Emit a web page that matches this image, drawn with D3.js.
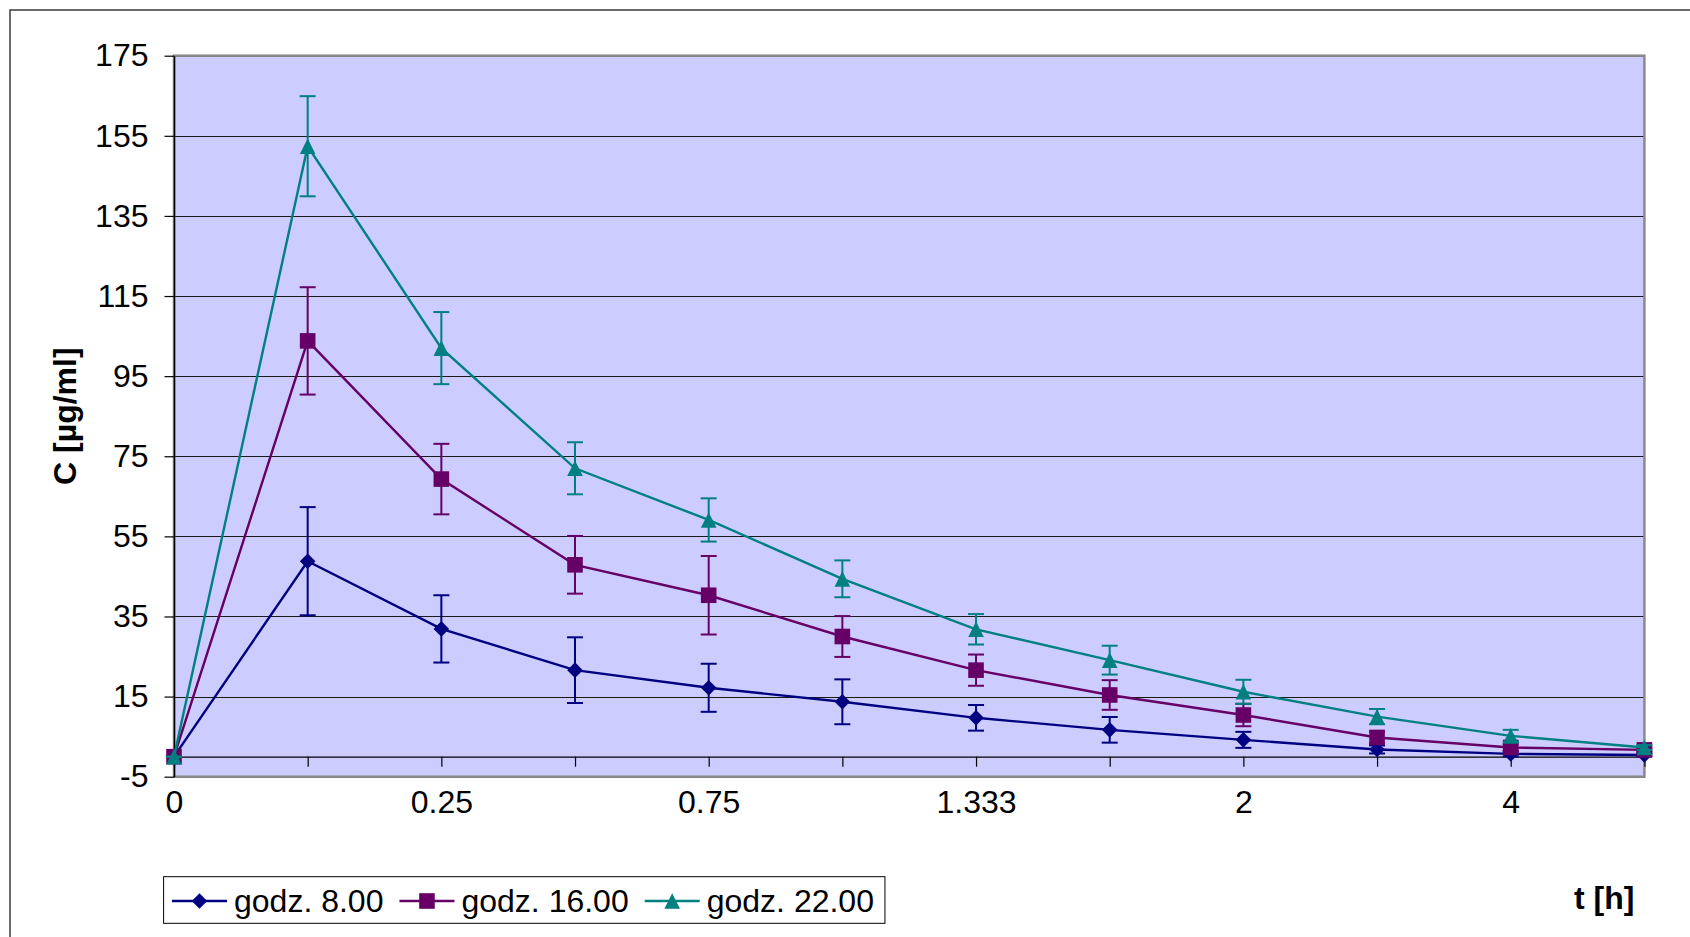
<!DOCTYPE html>
<html>
<head>
<meta charset="utf-8">
<script src="https://cdn.jsdelivr.net/npm/d3@7"></script>
<style>
  body { margin: 0; background: #fff; }
  svg { display: block; font-family: Arial, "Liberation Sans", sans-serif; }
</style>
</head>
<body>
<svg id="chart" width="1690" height="937"></svg>
<script>
// Sampling times (only every other category carries a label)
const timeLabels = ["0", "", "0.25", "", "0.75", "", "1.333", "", "2", "", "4", ""];
const yTicks = [-5, 15, 35, 55, 75, 95, 115, 135, 155, 175];
const seriesNames = ["godz. 8.00", "godz. 16.00", "godz. 22.00"];

// Mean concentration and standard deviation for each dosing hour
const meanAt8  = [0, 48.8, 31.9, 21.6, 17.2, 13.7, 9.7, 6.7, 4.2, 1.8, 0.7, 0.4];
const sdAt8    = [0, 13.5, 8.4, 8.2, 6.0, 5.6, 3.2, 3.2, 2.0, 1.0, 0.6, 0.3];
const meanAt16 = [0, 103.8, 69.3, 47.9, 40.3, 30.0, 21.6, 15.4, 10.4, 4.8, 2.3, 1.7];
const sdAt16   = [0, 13.4, 8.8, 7.2, 9.8, 5.1, 3.9, 3.7, 2.8, 1.5, 0.8, 0.5];
const meanAt22 = [0, 152.4, 102.0, 72.0, 59.1, 44.4, 31.8, 24.1, 16.2, 10.0, 5.2, 2.3];
const sdAt22   = [0, 12.5, 9.0, 6.5, 5.4, 4.6, 3.8, 3.6, 3.0, 1.9, 1.5, 0.6];

const colors = ["#000080", "#660066", "#008080"];
const shapes = ["diamond", "square", "triangle"];

const series = [
  { name: seriesNames[0], mean: meanAt8,  sd: sdAt8,  color: colors[0], shape: shapes[0] },
  { name: seriesNames[1], mean: meanAt16, sd: sdAt16, color: colors[1], shape: shapes[1] },
  { name: seriesNames[2], mean: meanAt22, sd: sdAt22, color: colors[2], shape: shapes[2] }
];

const svg = d3.select("#chart");
const FONT = 32;
const FAMILY = "Arial, 'Liberation Sans', sans-serif";

const plot = { left: 174, top: 55.7, right: 1644.4, bottom: 776.7 };

const x = d3.scalePoint()
  .domain(d3.range(timeLabels.length))
  .range([plot.left, plot.right]);

const y = d3.scaleLinear()
  .domain([yTicks[0], yTicks[yTicks.length - 1]])
  .range([plot.bottom, plot.top]);

// Outer chart frame
svg.append("rect")
  .attr("x", 10).attr("y", 10)
  .attr("width", 1720).attr("height", 1000)
  .attr("fill", "#fff")
  .attr("stroke", "#3a3a3a").attr("stroke-width", 1.5);

// Plot background
svg.append("rect")
  .attr("x", plot.left).attr("y", plot.top)
  .attr("width", plot.right - plot.left).attr("height", plot.bottom - plot.top)
  .attr("fill", "#CCCCFF");

// Horizontal gridlines
svg.append("g")
  .selectAll("line")
  .data(yTicks)
  .join("line")
  .attr("x1", plot.left).attr("x2", plot.right)
  .attr("y1", d => Math.round(y(d)) + 0.5).attr("y2", d => Math.round(y(d)) + 0.5)
  .attr("stroke", "#1a1a1a").attr("stroke-width", 1);

// Plot area border
svg.append("rect")
  .attr("x", plot.left).attr("y", plot.top)
  .attr("width", plot.right - plot.left).attr("height", plot.bottom - plot.top)
  .attr("fill", "none")
  .attr("stroke", "#8a8a8a").attr("stroke-width", 2.5);

// Y axis
const yAxis = svg.append("g")
  .attr("transform", `translate(${plot.left},0)`)
  .call(d3.axisLeft(y).tickValues(yTicks).tickFormat(d => String(d))
    .tickSize(9.5).tickPadding(16).tickSizeOuter(0));
yAxis.select(".domain").attr("stroke", "#000").attr("stroke-width", 1.5);
yAxis.selectAll(".tick line").attr("stroke", "#000").attr("stroke-width", 1.2);
yAxis.selectAll(".tick text")
  .attr("font-size", FONT).attr("font-family", FAMILY)
  .attr("fill", "#000");

// X axis (crosses at zero)
const xAxis = svg.append("g")
  .attr("transform", `translate(0,${y(0)})`)
  .call(d3.axisBottom(x).tickFormat(i => timeLabels[i]).tickSize(10).tickPadding(24).tickSizeOuter(0));
xAxis.select(".domain").attr("stroke", "#000").attr("stroke-width", 1.2);
xAxis.selectAll(".tick line").attr("stroke", "#000").attr("stroke-width", 1.2);
xAxis.selectAll(".tick text")
  .attr("font-size", FONT).attr("font-family", FAMILY)
  .attr("fill", "#000");

// Marker shapes
function markerPath(shape, r) {
  if (shape === "diamond") return `M0,${-r}L${r},0L0,${r}L${-r},0Z`;
  if (shape === "square") return `M${-r},${-r}H${r}V${r}H${-r}Z`;
  return `M0,${-r}L${r},${r}L${-r},${r}Z`;
}

const line = d3.line().x((d, i) => x(i)).y(d => y(d));

series.forEach(s => {
  const g = svg.append("g");

  // Error bars
  const eb = g.append("g")
    .selectAll("g")
    .data(s.mean.map((m, i) => ({ i, m, sd: s.sd[i] })))
    .join("g")
    .attr("stroke", s.color).attr("stroke-width", 2);
  eb.append("line")
    .attr("x1", d => x(d.i)).attr("x2", d => x(d.i))
    .attr("y1", d => y(d.m + d.sd)).attr("y2", d => y(d.m - d.sd));
  eb.append("line")
    .attr("x1", d => x(d.i) - 8).attr("x2", d => x(d.i) + 8)
    .attr("y1", d => y(d.m + d.sd)).attr("y2", d => y(d.m + d.sd));
  eb.append("line")
    .attr("x1", d => x(d.i) - 8).attr("x2", d => x(d.i) + 8)
    .attr("y1", d => y(d.m - d.sd)).attr("y2", d => y(d.m - d.sd));

  // Series line
  g.append("path")
    .datum(s.mean)
    .attr("d", line)
    .attr("fill", "none")
    .attr("stroke", s.color).attr("stroke-width", 2.4);

  // Markers
  g.append("g")
    .selectAll("path")
    .data(s.mean)
    .join("path")
    .attr("transform", (d, i) => `translate(${x(i)},${y(d)})`)
    .attr("d", markerPath(s.shape, 7.8))
    .attr("fill", s.color);
});

// Axis titles
svg.append("text")
  .attr("transform", `translate(65,${(plot.top + plot.bottom) / 2}) rotate(-90)`)
  .attr("text-anchor", "middle").attr("dominant-baseline", "central")
  .attr("font-size", FONT).attr("font-weight", "bold")
  .text("C [µg/ml]");

svg.append("text")
  .attr("x", 1574).attr("y", 909)
  .attr("font-size", FONT).attr("font-weight", "bold")
  .text("t [h]");

// Legend
const legend = svg.append("g");
const legendBox = legend.append("rect")
  .attr("x", 163.6).attr("y", 876.7)
  .attr("height", 46.6)
  .attr("fill", "#fff").attr("stroke", "#000").attr("stroke-width", 1);

let lx = 172;
const ly = 901;
series.forEach(s => {
  legend.append("line")
    .attr("x1", lx).attr("x2", lx + 55)
    .attr("y1", ly).attr("y2", ly)
    .attr("stroke", s.color).attr("stroke-width", 2.4);
  legend.append("path")
    .attr("transform", `translate(${lx + 27.5},${ly})`)
    .attr("d", markerPath(s.shape, 7.8))
    .attr("fill", s.color);
  const t = legend.append("text")
    .attr("x", lx + 62).attr("y", ly + 11)
    .attr("font-size", FONT)
    .text(s.name);
  lx = lx + 62 + t.node().getComputedTextLength() + 16;
});
legendBox.attr("width", lx - 16 + 11 - 163.6);
</script>
</body>
</html>
